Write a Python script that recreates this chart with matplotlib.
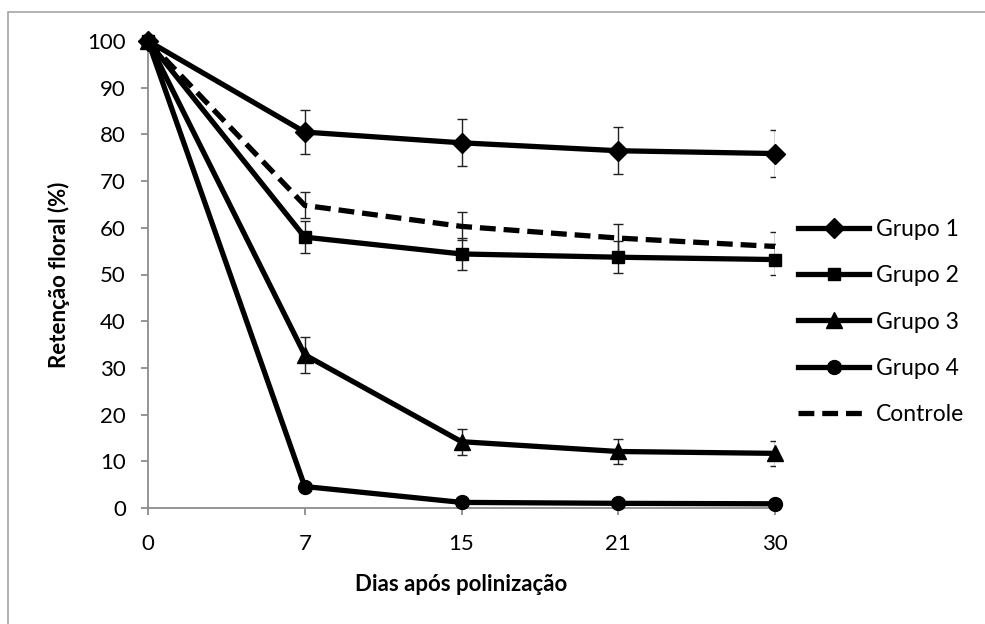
import matplotlib
matplotlib.use("Agg")
import matplotlib.pyplot as plt
from matplotlib.patches import Rectangle
import numpy as np

plt.rcParams['font.family'] = ['Lato', 'DejaVu Sans']

# dias após polinização (eixo de categorias)
dias = ['0', '7', '15', '21', '30']

grupo1 = [100, 80.5, 78.2, 76.5, 75.9]
grupo1_err = [0, 4.7, 5.0, 5.0, 5.0]
grupo2 = [100, 58.0, 54.4, 53.7, 53.2]
grupo2_err = [0, 3.4, 3.4, 3.4, 3.4]
grupo3 = [100, 32.8, 14.2, 12.1, 11.7]
grupo3_err = [0, 3.9, 2.8, 2.6, 2.6]
grupo4 = [100, 4.6, 1.2, 1.0, 0.9]
grupo4_err = [0, 0.3, 0.3, 0.3, 0.3]
controle = [100, 64.8, 60.3, 57.8, 56.0]
controle_err = [0, 2.8, 3.0, 3.0, 3.0]

fig = plt.figure(figsize=(9.85, 6.24), dpi=100)
ax = fig.add_axes([148/985, 116/624, 627/985, 467/624])

x = np.arange(len(dias))
series = [
    (grupo1, grupo1_err, 'Grupo 1', 'D', 10, '-'),
    (grupo2, grupo2_err, 'Grupo 2', 's', 8.5, '-'),
    (grupo3, grupo3_err, 'Grupo 3', '^', 11, '-'),
    (grupo4, grupo4_err, 'Grupo 4', 'o', 10, '-'),
    (controle, controle_err, 'Controle', None, 0, (0, (3, 1.5))),
]

handles = []
for vals, err, nome, mk, ms, ls in series:
    ax.errorbar(x, vals, yerr=err, fmt='none', ecolor='#222222',
                elinewidth=1, capsize=3.8, capthick=1, zorder=2)
    h, = ax.plot(x, vals, color='black', lw=3.8, linestyle=ls,
                 marker=mk, markersize=ms, label=nome, zorder=3,
                 dash_capstyle='butt', clip_on=False)
    handles.append(h)

ax.set_xlim(0, 4.0)
ax.set_ylim(0, 100)
ax.set_xticks(x)
ax.set_xticklabels(dias)
ax.set_yticks(np.arange(0, 101, 10))

for s in ['top', 'right']:
    ax.spines[s].set_visible(False)
for s in ['left', 'bottom']:
    ax.spines[s].set_color('#8c8c8c')
    ax.spines[s].set_linewidth(1.3)
ax.tick_params(axis='both', color='#8c8c8c', width=1.3, length=5,
               labelsize=16, colors='#8c8c8c', labelcolor='black')
ax.tick_params(axis='x', pad=14)
ax.tick_params(axis='y', pad=11)

ax.set_xlabel('Dias após polinização', fontsize=16, fontweight='bold', labelpad=14)
ax.set_ylabel('Retenção floral (%)', fontsize=16, fontweight='bold', labelpad=12)

fig.legend(handles=handles, loc='center left', bbox_to_anchor=(798/985, 1 - 322/624),
           frameon=False, fontsize=16.5, handlelength=3.1, handletextpad=0.3,
           labelspacing=1.1, borderpad=0, borderaxespad=0)

# moldura da área do gráfico
fig.patches.append(Rectangle((8/985, -0.1), 1.2, 1.1 - 12/624, transform=fig.transFigure,
                             fill=False, edgecolor='#a6a6a6', lw=1.2))

fig.savefig('out.png', dpi=100)
